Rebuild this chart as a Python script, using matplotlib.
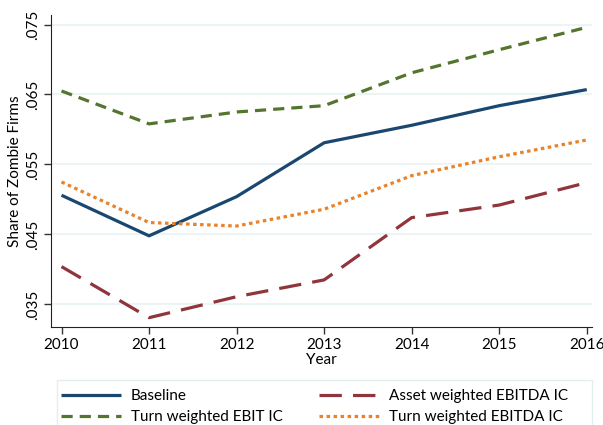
import matplotlib
matplotlib.use("Agg")
import matplotlib.pyplot as plt
from matplotlib.patches import Rectangle

years = [2010, 2011, 2012, 2013, 2014, 2015, 2016]
baseline = [0.0506, 0.0448, 0.0504, 0.0581, 0.0606, 0.0634, 0.0657]
turn_ebit = [0.0655, 0.0608, 0.0625, 0.0634, 0.0681, 0.0714, 0.0746]
asset_ebitda = [0.0404, 0.0331, 0.0361, 0.0385, 0.0474, 0.0492, 0.0524]
turn_ebitda = [0.0525, 0.0467, 0.0462, 0.0486, 0.0534, 0.0561, 0.0585]

yticks = [0.035, 0.045, 0.055, 0.065, 0.075]
ytick_labels = [".035", ".045", ".055", ".065", ".075"]

plt.rcParams['font.family'] = ['Lato', 'DejaVu Sans']

fig = plt.figure(figsize=(6.03, 4.25), dpi=100)
ax = fig.add_axes([51/603, 1 - 327/425, 541/603, 312/425])

for y in yticks:
    ax.axhline(y, color='#eaf2f3', lw=1.2, zorder=0)

l1, = ax.plot(years, baseline, color='#1a476f', lw=2.3, label='Baseline', solid_capstyle='butt')
l2, = ax.plot(years, turn_ebit, color='#55752f', lw=2.3, dashes=(3.5, 2.2), label='Turn weighted EBIT IC')
l3, = ax.plot(years, asset_ebitda, color='#90353b', lw=2.3, dashes=(7, 3.5), label='Asset weighted EBITDA IC')
l4, = ax.plot(years, turn_ebitda, color='#e8832a', lw=2.3, dashes=(1.1, 1.1), label='Turn weighted EBITDA IC')

ax.set_xlim(2009.88, 2016.06)
ax.set_ylim(0.03177, 0.07636)
ax.set_xticks(years)
ax.set_yticks(yticks)
ax.set_yticklabels(ytick_labels, rotation=90, va='center')
ax.tick_params(axis='both', labelsize=11, length=5, width=1, color='#333333', pad=3)
ax.spines['top'].set_visible(False)
ax.spines['right'].set_visible(False)
ax.spines['left'].set_color('#222222')
ax.spines['bottom'].set_color('#222222')
ax.set_xlabel('Year', fontsize=11, labelpad=1)
ax.set_ylabel('Share of Zombie Firms', fontsize=11, labelpad=3)

# legend box drawn separately so it spans the plot width
fig.patches.append(Rectangle((57/603, -2/425), 535/603, 47/425,
                             transform=fig.transFigure, fill=False,
                             edgecolor='#e4eef0', lw=1))
fig.legend(handles=[l1, l2, l3, l4], ncol=2, loc='upper left',
           bbox_to_anchor=(61/603, 1 - 389/425),
           frameon=False, fontsize=11,
           handlelength=3.9, handletextpad=0.65, labelspacing=0.45, borderaxespad=0,
           borderpad=0, columnspacing=2.4)

fig.savefig('out.png', dpi=100)
